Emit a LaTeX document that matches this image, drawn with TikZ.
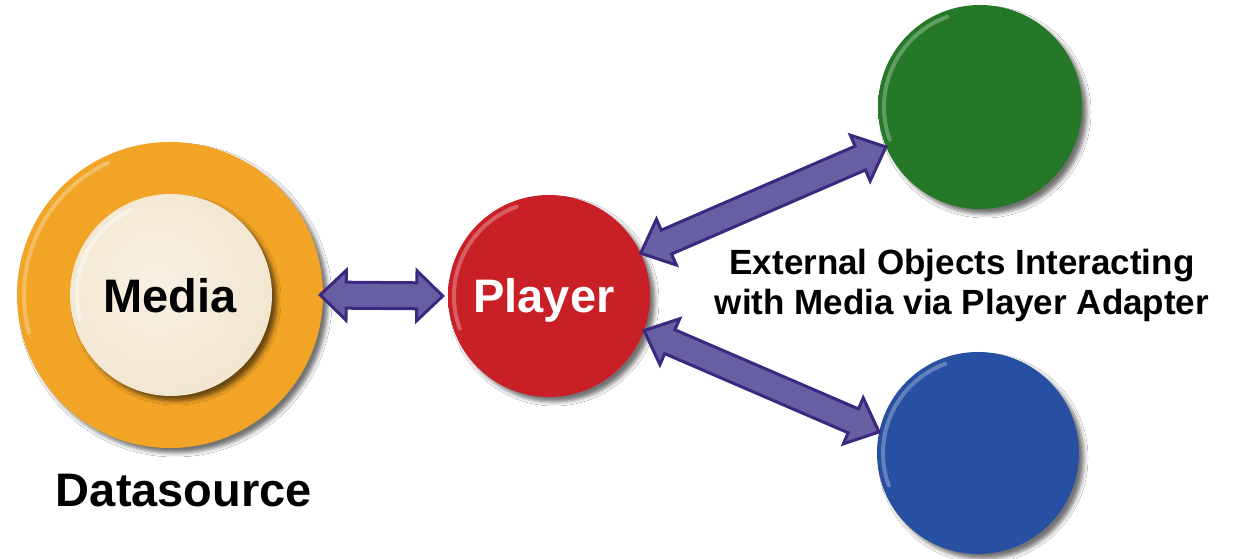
\documentclass[tikz,border=0pt]{standalone}
\usepackage{fontspec}
\setmainfont{Liberation Sans}
\usetikzlibrary{calc,shadows.blur}
\definecolor{redc}{RGB}{200,32,38}
\definecolor{greenc}{RGB}{36,120,40}
\definecolor{bluec}{RGB}{40,80,162}
\definecolor{orangec}{RGB}{242,164,38}
\definecolor{creamc}{RGB}{242,230,208}
\definecolor{arrfill}{RGB}{102,96,162}
\definecolor{arrline}{RGB}{60,40,128}
\pgfdeclareradialshading{redbtn}{\pgfpoint{-4bp}{4bp}}{color(0bp)=(redc); color(42bp)=(redc); color(47bp)=(redc!80!black); color(52bp)=(redc!30!black); color(70bp)=(redc!30!black)}
\pgfdeclareradialshading{greenbtn}{\pgfpoint{-4bp}{4bp}}{color(0bp)=(greenc); color(42bp)=(greenc); color(47bp)=(greenc!80!black); color(52bp)=(greenc!30!black); color(70bp)=(greenc!30!black)}
\pgfdeclareradialshading{bluebtn}{\pgfpoint{-4bp}{4bp}}{color(0bp)=(bluec); color(42bp)=(bluec); color(47bp)=(bluec!80!black); color(52bp)=(bluec!30!black); color(70bp)=(bluec!30!black)}
\pgfdeclareradialshading{orangebtn}{\pgfpoint{-3bp}{3bp}}{color(0bp)=(orangec); color(44bp)=(orangec); color(49bp)=(orangec!80!black); color(53bp)=(orangec!40!black); color(70bp)=(orangec!40!black)}
\pgfdeclareradialshading{creambtn}{\pgfpoint{-4bp}{4bp}}{color(0bp)=(creamc!60!white); color(30bp)=(creamc); color(42bp)=(creamc); color(47bp)=(creamc!75!black); color(52bp)=(creamc!35!black); color(70bp)=(creamc!35!black)}
\tikzset{
  btn/.style={circle, inner sep=0pt, shade, draw=none,
    blur shadow={shadow xshift=5bp, shadow yshift=-5bp, shadow blur radius=4bp, shadow opacity=55}},
  rim/.style={white, opacity=0.28, line width=4bp, line cap=round},
  bigtxt/.style={font=\bfseries\fontsize{47bp}{50bp}\selectfont, anchor=base, inner sep=0pt},
  exttxt/.style={font=\bfseries\fontsize{35bp}{40bp}\selectfont, anchor=base, inner sep=0pt},
  arrowbody/.style={fill=arrfill, draw=arrline, line width=3bp, line join=miter}
}
\newcommand{\dblarr}[5]{% from, to, head length, head half width, shaft half width
  \path[arrowbody] (#1)
   -- ($(#1)!#3!(#2)!#4!90:(#2)$)
   -- ($(#1)!#3!(#2)!#5!90:(#2)$)
   -- ($(#2)!#3!(#1)!#5!-90:(#1)$)
   -- ($(#2)!#3!(#1)!#4!-90:(#1)$)
   -- (#2)
   -- ($(#2)!#3!(#1)!#4!90:(#1)$)
   -- ($(#2)!#3!(#1)!#5!90:(#1)$)
   -- ($(#1)!#3!(#2)!#5!-90:(#2)$)
   -- ($(#1)!#3!(#2)!#4!-90:(#2)$)
   -- cycle;}
\begin{document}
\begin{tikzpicture}[x=1bp,y=1bp]
\useasboundingbox[fill=white] (0,0) rectangle (1239,559);
% buttons
\node[btn, minimum size=306bp, shading=orangebtn] (ds) at (170,264) {};
\draw[rim] ([shift={(115:146bp)}]ds.center) arc[start angle=115, end angle=195, radius=146bp];
\node[btn, minimum size=202bp, shading=creambtn] (media) at (171,264) {};
\draw[rim, opacity=0.45] ([shift={(115:94bp)}]media.center) arc[start angle=115, end angle=195, radius=94bp];
\node[btn, minimum size=202bp, shading=redbtn] (player) at (549,263) {};
\draw[rim] ([shift={(110:95bp)}]player.center) arc[start angle=110, end angle=200, radius=95bp];
\node[btn, minimum size=204bp, shading=greenbtn] (green) at (980,452) {};
\draw[rim] ([shift={(110:96bp)}]green.center) arc[start angle=110, end angle=200, radius=96bp];
\node[btn, minimum size=202bp, shading=bluebtn] (blue) at (978,106) {};
\draw[rim] ([shift={(110:95bp)}]blue.center) arc[start angle=110, end angle=200, radius=95bp];
% texts
\node[bigtxt] (tmedia) at (170,246) {Media};
\node[bigtxt, text=white] (tplayer) at (544,246) {Player};
\node[bigtxt] (tds) at (184,52) {Datasource};
\node[exttxt] (ext1) at (962,284) {External Objects Interacting};
\node[exttxt] (ext2) at (962,244) {with Media via Player Adapter};
% connectors
\coordinate (h1) at ([xshift=-3bp]ds.east);
\coordinate (h2) at ([xshift=-5bp]player.west);
\dblarr{h1}{h2}{26bp}{25bp}{13bp}
\coordinate (u1) at (player.25);
\coordinate (u2) at (green.203);
\dblarr{u1}{u2}{28bp}{25bp}{13bp}
\coordinate (l1) at (player.-20);
\coordinate (l2) at (blue.168);
\dblarr{l1}{l2}{28bp}{25bp}{13bp}
\end{tikzpicture}
\end{document}
